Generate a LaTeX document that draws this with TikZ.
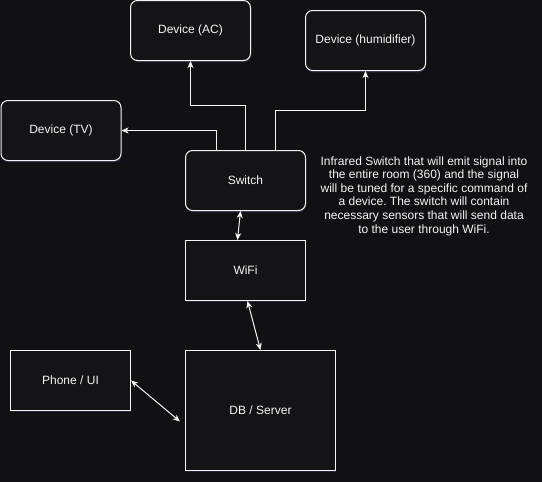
\documentclass[tikz,border=0pt]{standalone}
\usepackage{fontspec}
\setmainfont{Liberation Sans}
\usetikzlibrary{arrows.meta,calc,shadows}
\frenchspacing
\definecolor{bg}{RGB}{17,17,19}
\definecolor{boxfill}{RGB}{20,20,22}
\definecolor{glow}{RGB}{40,40,62}
\definecolor{ink}{RGB}{245,245,245}
\tikzset{
  box/.style={draw=ink, fill=boxfill, line width=1pt, minimum width=120pt, minimum height=60pt,
    inner sep=0pt, text=ink, font=\fontsize{12}{14}\selectfont,
    drop shadow={shadow xshift=0.6pt, shadow yshift=-1.8pt, fill=glow, opacity=0.9}},
  rbox/.style={box, rounded corners=7pt},
  conn/.style={draw=ink, line width=1pt, -{Stealth[length=7pt,width=6pt,inset=2pt]}},
  bconn/.style={draw=ink, line width=1pt, {Stealth[length=7pt,width=6pt,inset=2pt]}-{Stealth[length=7pt,width=6pt,inset=2pt]}},
  note/.style={text=ink, align=center, font=\fontsize{12}{13.6}\selectfont, inner sep=0pt}
}
\begin{document}
\begin{tikzpicture}[x=1pt,y=-1pt]
\fill[bg] (0,0) rectangle (542,482);
\useasboundingbox (0,0) rectangle (542,482);
\node[rbox] (ac) at (190.5,30.5) {Device (AC)};
\node[rbox] (hum) at (365.5,40.5) {Device (humidifier)};
\node[rbox] (tv) at (61,130.5) {Device (TV)};
\node[rbox] (sw) at (245.5,180.5) {Switch};
\node[box] (wifi) at (245.5,270.5) {WiFi};
\node[box] (phone) at (70.5,380.5) {Phone / UI};
\node[box, minimum width=150pt, minimum height=120pt] (db) at (260.5,410.5) {DB / Server};
\node[note] (txt) at (424,196) {Infrared Switch that will emit signal into\\the entire room (360) and the signal\\will be tuned for a specific command of\\a device. The switch will contain\\necessary sensors that will send data\\to the user through WiFi.};
\draw[conn] (sw.north) -- ++(0,-45) -| (ac.south);
\draw[conn] ([xshift=-29pt]sw.north) |- (tv.east);
\draw[conn] ([xshift=30pt]sw.north) -- ++(0,-40) -| (hum.south);
\draw[bconn] ($(sw.south)+(-5,0)$) -- ($(wifi.north)+(-8,0)$);
\draw[bconn] ($(wifi.south)+(2,0)$) -- (db.north);
\draw[bconn] (phone.east) -- ($(db.west)+(-5,11)$);
\end{tikzpicture}
\end{document}
